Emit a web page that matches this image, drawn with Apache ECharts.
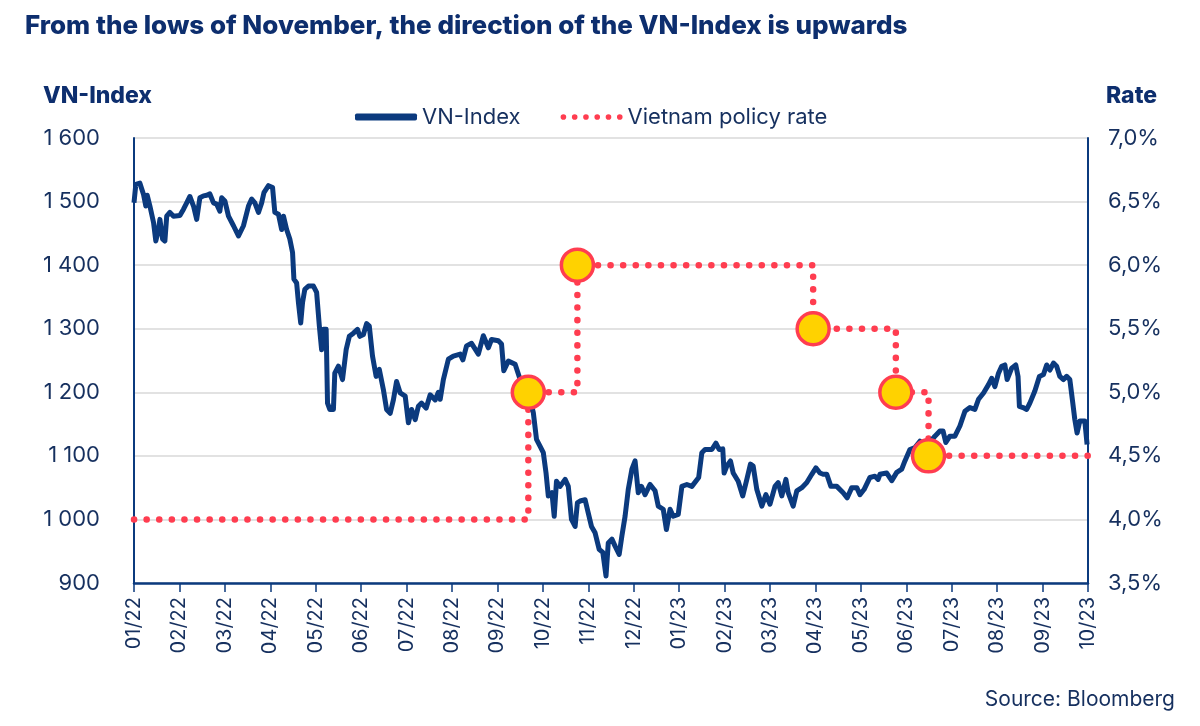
<!DOCTYPE html>
<html>
<head>
<meta charset="utf-8">
<script src="https://cdn.jsdelivr.net/npm/echarts@6/dist/echarts.min.js"></script>
<style>
html,body{margin:0;padding:0;background:#fff;}
#chart{width:1200px;height:726px;}
</style>
</head>
<body>
<div id="chart"></div>
<script>
// Month tick labels (x = months since Jan 2022)
var tickLabels = ['01/22','02/22','03/22','04/22','05/22','06/22','07/22','08/22','09/22','10/22','11/22','12/22','01/23','02/23','03/23','04/23','05/23','06/23','07/23','08/23','09/23','10/23'];

// VN-Index: position in months since 01/2022 and index value
var vnMonths = [0,0.04,0.13,0.21,0.26,0.29,0.35,0.43,0.48,0.54,0.57,0.63,0.68,0.72,0.79,0.87,1.01,1.09,1.16,1.23,1.31,1.38,1.45,1.53,1.60,1.67,1.75,1.82,1.89,1.93,2.00,2.08,2.19,2.30,2.41,2.52,2.59,2.66,2.74,2.81,2.86,2.96,3.05,3.10,3.18,3.25,3.29,3.36,3.43,3.49,3.52,3.58,3.62,3.67,3.71,3.76,3.84,3.95,4.02,4.08,4.13,4.17,4.23,4.26,4.31,4.39,4.42,4.50,4.59,4.67,4.74,4.83,4.92,4.97,5.05,5.12,5.18,5.25,5.33,5.40,5.49,5.56,5.64,5.71,5.78,5.86,5.97,6.04,6.11,6.19,6.26,6.33,6.43,6.52,6.63,6.70,
6.74,6.81,6.92,7.03,7.18,7.24,7.32,7.43,7.58,7.69,7.80,7.87,8.02,8.09,8.14,8.24,8.39,8.50,8.61,8.72,8.79,8.86,8.94,9.01,9.07,9.12,9.20,9.25,9.30,9.38,9.49,9.56,9.63,9.71,9.76,9.82,9.93,10.00,10.07,10.15,10.24,10.32,10.39,10.44,10.52,10.59,10.68,10.74,10.81,10.88,10.96,11.03,11.07,11.10,11.17,11.25,11.36,11.47,11.54,
11.65,11.72,11.80,11.87,11.98,12.06,12.17,12.28,12.43,12.50,12.57,12.72,12.81,12.88,12.96,12.99,13.05,13.13,13.19,13.30,13.40,13.49,13.57,13.63,13.71,13.82,13.91,14.00,14.11,14.18,14.26,14.35,14.40,14.51,14.59,14.70,14.81,14.92,15.01,15.10,15.17,15.25,15.34,15.47,15.61,15.70,15.80,15.91,15.98,16.07,16.20,16.31,16.38,
16.42,16.57,16.68,16.79,16.90,16.97,17.08,17.19,17.30,17.41,17.52,17.63,17.74,17.81,17.87,17.96,18.07,18.18,18.29,18.40,18.51,18.59,18.70,18.81,18.88,18.95,19.03,19.10,19.17,19.22,19.32,19.41,19.46,19.49,19.57,19.65,19.72,19.83,19.93,20.02,20.09,20.16,20.24,20.31,20.38,20.46,20.53,20.60,20.66,20.71,20.76,20.82,20.93,20.98];
var vnValues = [1498,1527,1529,1511,1493,1510,1493,1467,1438,1456,1472,1441,1438,1477,1483,1477,1478,1488,1498,1508,1493,1472,1506,1509,1510,1512,1498,1496,1485,1506,1501,1477,1462,1446,1462,1493,1504,1498,1483,1498,1514,1525,1522,1483,1480,1456,1477,1456,1441,1420,1378,1372,1341,1309,1341,1362,1367,1367,1357,1304,1267,1299,1299,1183,1173,1173,1230,1241,1220,1267,1288,1293,1299,1288,1291,1308,1304,1257,1225,1236,1204,1173,1167,1188,1217,1199,1194,1152,1173,1157,1178,1183,1175,1196,1188,1200,
1189,1220,1252,1257,1260,1251,1273,1277,1260,1289,1270,1283,1281,1276,1234,1249,1244,1220,1205,1189,1168,1126,1115,1105,1073,1037,1042,1005,1060,1052,1063,1052,1000,989,1026,1029,1031,1010,989,979,953,948,911,963,969,958,945,974,1005,1047,1079,1092,1094,1042,1052,1039,1055,1045,1021,
1016,984,1016,1005,1008,1052,1055,1052,1066,1105,1110,1110,1120,1110,1111,1073,1084,1092,1073,1060,1037,1063,1087,1084,1047,1021,1039,1024,1052,1058,1037,1063,1042,1021,1045,1050,1058,1071,1081,1073,1071,1071,1052,1052,1042,1034,1050,1050,1039,1047,1066,1068,1063,
1071,1073,1061,1074,1079,1092,1110,1113,1123,1116,1121,1131,1139,1139,1121,1131,1131,1147,1170,1176,1173,1189,1199,1212,1222,1209,1230,1241,1243,1220,1238,1243,1225,1178,1176,1173,1183,1202,1225,1228,1243,1235,1246,1241,1225,1220,1225,1220,1186,1157,1136,1155,1155,1118];

// Vietnam policy rate: change dates (months since 01/2022) and rate in %
var rateMonths = [0, 8.68, 9.76, 14.95, 16.77, 17.49, 21];
var rateValues = [4.0, 5.0, 6.0, 5.5, 5.0, 4.5, 4.5];

var NAVY = '#0b3a7e';
var TEXT = '#16305f';
var RED = '#ff3d50';

var vnData = vnMonths.map(function (m, i) { return [m, vnValues[i]]; });
var rateData = rateMonths.map(function (m, i) { return [m, rateValues[i]]; });
var markerData = rateData.slice(1, rateData.length - 1);

var dotsIcon = 'path://M0,3a3,3 0 1,0 6,0a3,3 0 1,0 -6,0z M12,3a3,3 0 1,0 6,0a3,3 0 1,0 -6,0z M24,3a3,3 0 1,0 6,0a3,3 0 1,0 -6,0z M36,3a3,3 0 1,0 6,0a3,3 0 1,0 -6,0z M48,3a3,3 0 1,0 6,0a3,3 0 1,0 -6,0z M60,3a3,3 0 1,0 6,0a3,3 0 1,0 -6,0z';

var chart = echarts.init(document.getElementById('chart'), null, {renderer: 'canvas'});
var FONT = 'Inter';
chart.setOption({
  animation: false,
  backgroundColor: '#ffffff',
  title: [
    {text: 'From the lows of November, the direction of the VN-Index is upwards', left: 20, top: 8,
     textStyle: {fontFamily: FONT, fontSize: 26, fontWeight: 800, color: '#0d2e6e'}},
    {text: 'VN-Index', left: 38, top: 80, textStyle: {fontFamily: FONT, fontSize: 23, fontWeight: 800, color: '#0d2e6e'}},
    {text: 'Rate', right: 38, top: 80, textStyle: {fontFamily: FONT, fontSize: 23, fontWeight: 800, color: '#0d2e6e'}},
    {text: 'Source: Bloomberg', right: 20, top: 684, textStyle: {fontFamily: FONT, fontSize: 21, fontWeight: 400, color: TEXT}}
  ],
  legend: {
    top: 101, left: 350, itemGap: 40, itemWidth: 62, itemHeight: 7,
    textStyle: {fontFamily: FONT, fontSize: 22, color: TEXT},
    data: [
      {name: 'VN-Index', icon: 'roundRect', itemStyle: {color: NAVY}},
      {name: 'Vietnam policy rate', icon: dotsIcon, itemStyle: {color: RED, borderWidth: 0}}
    ]
  },
  grid: {left: 134, right: 112, top: 138, bottom: 143, containLabel: false},
  xAxis: {
    type: 'value', min: 0, max: 21, interval: 1,
    axisLine: {show: true, lineStyle: {color: NAVY, width: 2.5}},
    axisTick: {show: true, length: 9, lineStyle: {color: NAVY, width: 1.5}},
    splitLine: {show: false},
    axisLabel: {
      rotate: 90, margin: 14, fontFamily: FONT, fontSize: 20, color: TEXT,
      formatter: function (v) { return tickLabels[Math.round(v)] || ''; }
    }
  },
  yAxis: [
    {
      type: 'value', min: 900, max: 1600, interval: 100, position: 'left',
      axisLine: {show: true, lineStyle: {color: NAVY, width: 2}},
      axisTick: {show: false},
      splitLine: {show: true, lineStyle: {color: '#d9d9d9', width: 1.5}},
      axisLabel: {
        margin: 34, fontFamily: FONT, fontSize: 22, color: TEXT,
        formatter: function (v) { return v >= 1000 ? String(v).replace(/^(\d)(\d{3})$/, '$1 $2') : String(v); }
      }
    },
    {
      type: 'value', min: 3.5, max: 7.0, interval: 0.5, position: 'right',
      axisLine: {show: true, lineStyle: {color: NAVY, width: 2}},
      axisTick: {show: false},
      splitLine: {show: false},
      axisLabel: {
        margin: 20, fontFamily: FONT, fontSize: 22, color: TEXT,
        formatter: function (v) { return v.toFixed(1).replace('.', ',') + '%'; }
      }
    }
  ],
  series: [
    {
      name: 'Vietnam policy rate', type: 'line', yAxisIndex: 1, step: 'end',
      data: rateData, showSymbol: false, symbol: 'none', z: 2,
      itemStyle: {color: RED},
      lineStyle: {color: RED, width: 6.5, type: [0.1, 12.5], cap: 'round'}
    },
    {
      name: 'VN-Index', type: 'line', yAxisIndex: 0, data: vnData,
      showSymbol: false, symbol: 'none', z: 3,
      itemStyle: {color: NAVY},
      lineStyle: {color: NAVY, width: 5, join: 'round'}
    },
    {
      name: 'markers', type: 'scatter', yAxisIndex: 1, data: markerData,
      symbolSize: 32, z: 4,
      itemStyle: {color: '#ffd200', borderColor: RED, borderWidth: 3.5, opacity: 1}
    }
  ]
});
</script>
</body>
</html>
